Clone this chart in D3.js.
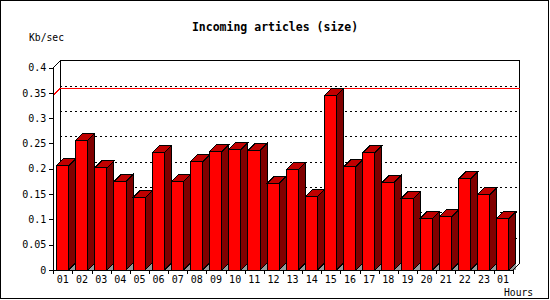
<!DOCTYPE html>
<html>
<head>
<meta charset="utf-8">
<script src="https://cdn.jsdelivr.net/npm/d3@7"></script>
<style>
  body { margin: 0; background: #fff; }
  text { font-family: "DejaVu Sans Mono", "Liberation Mono", monospace; }
  path, line, rect { shape-rendering: crispEdges; }
</style>
</head>
<body>
<div id="chart"></div>
<script>
// chart data
var hours = ["01", "02", "03", "04", "05", "06", "07", "08", "09", "10", "11", "12",
             "13", "14", "15", "16", "17", "18", "19", "20", "21", "22", "23", "01"];
var sizes = [0.206, 0.256, 0.202, 0.175, 0.143, 0.232, 0.175, 0.214, 0.234, 0.238, 0.236, 0.171,
             0.198, 0.145, 0.345, 0.204, 0.232, 0.173, 0.141, 0.102, 0.105, 0.180, 0.149, 0.102];
var yTicks = [0, 0.05, 0.1, 0.15, 0.2, 0.25, 0.3, 0.35, 0.4];

var svgWidth = 550;
var svgHeight = 300;
var depth = 7;

var svg = d3.select("#chart")
  .append("svg")
  .attr("width", svgWidth)
  .attr("height", svgHeight);

// outer frame
svg.append("rect")
  .attr("x", 0.5).attr("y", 0.5)
  .attr("width", 547.5).attr("height", 297.5)
  .attr("fill", "none").attr("stroke", "#000");

// scales
var x = d3.scaleBand()
  .domain(d3.range(hours.length))
  .range([53.3, 512.7]);

var y = d3.scaleLinear()
  .domain([0, 0.4])
  .range([270, 67.5]);

var left = x.range()[0], right = x.range()[1];

// back wall gridlines (dotted)
svg.append("g")
  .selectAll("line")
  .data(yTicks.filter(d => d > 0 && d < 0.4))
  .enter()
  .append("line")
  .attr("x1", left + depth).attr("x2", right + depth)
  .attr("y1", d => Math.round(y(d) - depth) + 0.5)
  .attr("y2", d => Math.round(y(d) - depth) + 0.5)
  .attr("stroke", "#000")
  .attr("stroke-dasharray", "2,3");

// back wall frame
var topBack = y(0.4) - depth;
svg.append("path")
  .attr("d", `M${left + depth},${y(0) - depth}V${topBack}H${right + depth}V${y(0) - depth}`)
  .attr("fill", "none").attr("stroke", "#000");

// maximum line
var maxVal = d3.max(sizes);
svg.append("path")
  .attr("d", `M${left},${y(maxVal)}L${left + depth},${y(maxVal) - depth}H${right + depth}`)
  .attr("fill", "none").attr("stroke", "#ff0000");

// bars
var bars = svg.append("g")
  .selectAll("g")
  .data(sizes)
  .enter()
  .append("g");

var frontX = (d, i) => x(i) + 3.2;
var frontW = 12.2;

// floor shadow
bars.append("path")
  .attr("d", (d, i) => {
    var x1 = frontX(d, i) + frontW;
    return `M${x1},${y(0)}L${x1 + depth},${y(0) - depth}V${y(0)}Z`;
  })
  .attr("fill", "#999");

// side face
bars.append("path")
  .attr("d", (d, i) => {
    var x1 = frontX(d, i) + frontW;
    return `M${x1},${y(d)}L${x1 + depth},${y(d) - depth}V${y(0) - depth}L${x1},${y(0)}Z`;
  })
  .attr("fill", "#800000").attr("stroke", "#000");

// top face
bars.append("path")
  .attr("d", (d, i) => {
    var x0 = frontX(d, i);
    return `M${x0},${y(d)}L${x0 + depth},${y(d) - depth}H${x0 + frontW + depth}L${x0 + frontW},${y(d)}Z`;
  })
  .attr("fill", "#c00000").attr("stroke", "#000");

// front face
bars.append("rect")
  .attr("x", frontX)
  .attr("y", d => y(d))
  .attr("width", frontW)
  .attr("height", d => y(0) - y(d))
  .attr("fill", "#ff0000").attr("stroke", "#000");

// y axis
var leftAxis = d3.axisLeft(y)
  .tickValues(yTicks)
  .tickSize(4)
  .tickSizeOuter(0)
  .tickPadding(3)
  .tickFormat(d => String(+d.toFixed(2)));

var yAxis = svg.append("g")
  .attr("transform", `translate(${left}, 0)`)
  .call(leftAxis);
yAxis.selectAll("text").attr("font-size", "10px").attr("fill", "#000");
yAxis.selectAll("line, path").attr("stroke", "#000");

// top-left depth edge
svg.append("path")
  .attr("d", `M${left},${y(0.4)}L${left + depth},${topBack}`)
  .attr("fill", "none").attr("stroke", "#000");

// x axis baseline and bottom-right depth edge
svg.append("path")
  .attr("d", `M${left},${y(0) + 0.5}H${right}L${right + depth},${y(0) - depth}`)
  .attr("fill", "none").attr("stroke", "#000");

var xAxis = svg.append("g");
xAxis.selectAll("line")
  .data(d3.range(hours.length + 1))
  .enter()
  .append("line")
  .attr("x1", i => Math.round(left + i * x.step()) + 0.5)
  .attr("x2", i => Math.round(left + i * x.step()) + 0.5)
  .attr("y1", y(0)).attr("y2", y(0) + 4)
  .attr("stroke", "#000");

xAxis.selectAll("text")
  .data(hours)
  .enter()
  .append("text")
  .attr("x", (d, i) => x(i) + x.bandwidth() / 2)
  .attr("y", 283)
  .attr("text-anchor", "middle")
  .attr("font-size", "10px")
  .text(d => d);

// titles
svg.append("text")
  .attr("x", 275).attr("y", 31)
  .attr("text-anchor", "middle")
  .attr("font-size", "11.5px")
  .attr("font-weight", "bold")
  .text("Incoming articles (size)");

svg.append("text")
  .attr("x", 29).attr("y", 41)
  .attr("font-size", "9.7px")
  .text("Kb/sec");

svg.append("text")
  .attr("x", 504).attr("y", 296)
  .attr("font-size", "9.7px")
  .text("Hours");
</script>
</body>
</html>
